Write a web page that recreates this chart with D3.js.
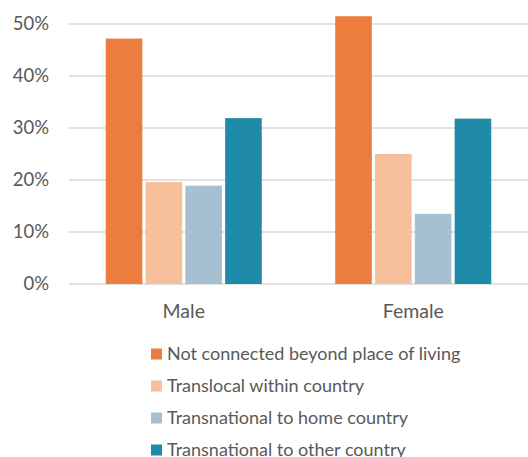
<!DOCTYPE html>
<html>
<head>
<meta charset="utf-8">
<script src="https://cdn.jsdelivr.net/npm/d3@7"></script>
<style>
  body { margin: 0; background: #fff; }
  text { font-family: Lato, "Open Sans", sans-serif; fill: #595959; }
</style>
</head>
<body>
<svg width="528" height="457"></svg>
<script>
// data
var categories = ["Male", "Female"];
var series = ["Not connected beyond place of living", "Translocal within country",
              "Transnational to home country", "Transnational to other country"];
var notConnected = [0.472, 0.515];
var translocal = [0.196, 0.250];
var toHome = [0.189, 0.135];
var toOther = [0.319, 0.318];
var yTicks = [0, 0.1, 0.2, 0.3, 0.4, 0.5];
var colors = ["#ED7D3E", "#F8BF9B", "#A7C0D1", "#1F8BA8"];

var values = [notConnected, translocal, toHome, toOther];
var data = categories.map(function(c, i) {
    return { cat: c, vals: series.map(function(s, j) { return { key: s, v: values[j][i] }; }) };
});

// plot area
var margin = {top: 24, right: 0, bottom: 173, left: 69},
    width = 528 - margin.left - margin.right,
    height = 457 - margin.top - margin.bottom;

var svg = d3.select("svg")
  .append("g")
    .attr("transform", "translate(" + margin.left + "," + margin.top + ")");

var x0 = d3.scaleBand()
    .domain(categories)
    .range([0, width])
    .paddingInner(0.32)
    .paddingOuter(0.16);

var x1 = d3.scaleBand()
    .domain(series)
    .range([0, x0.bandwidth()])
    .paddingInner(0.08)
    .paddingOuter(0);

var y = d3.scaleLinear()
    .domain([0, 0.5])
    .range([height, 0]);

// gridlines
svg.append("g")
    .selectAll("line")
    .data(yTicks)
    .enter().append("line")
    .attr("x1", 0)
    .attr("x2", width)
    .attr("y1", function(d) { return y(d); })
    .attr("y2", function(d) { return y(d); })
    .attr("stroke", "#D9D9D9")
    .attr("stroke-width", 1.3);

// y axis labels
var yAxis = svg.append("g")
    .call(d3.axisLeft(y).tickValues(yTicks).tickFormat(d3.format(".0%")).tickSize(0).tickPadding(20));
yAxis.select(".domain").remove();
yAxis.selectAll("text").style("font-size", "18.5px").style("fill", "#595959").style("font-family", "Lato");

// bars
svg.append("g")
    .selectAll("g")
    .data(data)
    .enter().append("g")
    .attr("transform", function(d) { return "translate(" + x0(d.cat) + ",0)"; })
    .selectAll("rect")
    .data(function(d) { return d.vals; })
    .enter().append("rect")
    .attr("x", function(d) { return x1(d.key); })
    .attr("y", function(d) { return y(d.v); })
    .attr("width", x1.bandwidth())
    .attr("height", function(d) { return height - y(d.v); })
    .attr("fill", function(d, i) { return colors[i]; });

// category labels
var xAxis = svg.append("g")
    .attr("transform", "translate(0," + height + ")")
    .call(d3.axisBottom(x0).tickSize(0).tickPadding(20));
xAxis.select(".domain").remove();
xAxis.selectAll("text").style("font-size", "19.5px").style("fill", "#595959").style("font-family", "Lato");

// legend
var legend = d3.select("svg").append("g")
    .attr("transform", "translate(151,354)");

var item = legend.selectAll("g")
    .data(series)
    .enter().append("g")
    .attr("transform", function(d, i) { return "translate(0," + (i * 32) + ")"; });

item.append("rect")
    .attr("x", 0)
    .attr("y", -5.5)
    .attr("width", 11)
    .attr("height", 11)
    .attr("fill", function(d, i) { return colors[i]; });

item.append("text")
    .attr("x", 16)
    .attr("y", 0)
    .attr("dy", "0.35em")
    .style("font-size", "18px")
    .text(function(d) { return d; });
</script>
</body>
</html>
